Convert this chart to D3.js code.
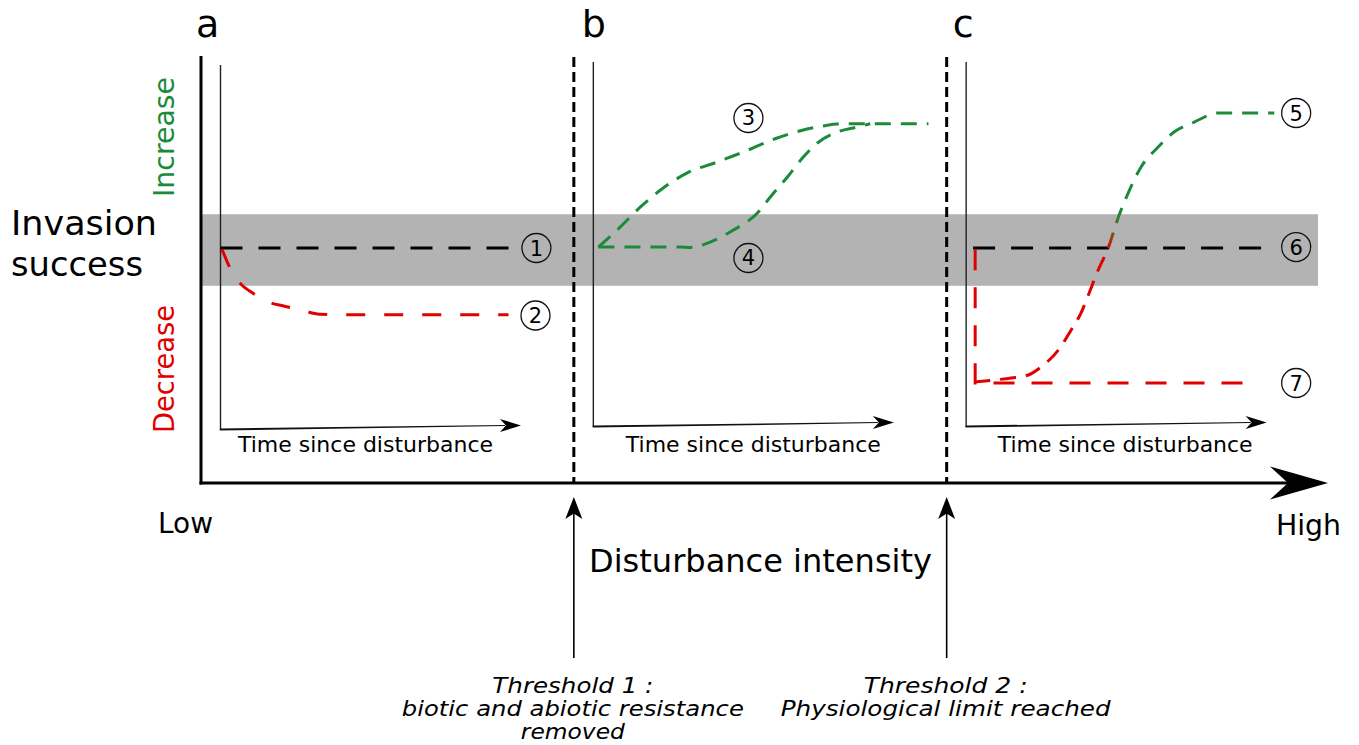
<!DOCTYPE html>
<html>
<head>
<meta charset="utf-8">
<script src="https://cdn.jsdelivr.net/npm/d3@7"></script>
<style>
  html, body { margin: 0; padding: 0; background: #fff; }
  svg { display: block; }
  text { font-family: "DejaVu Sans", Verdana, sans-serif; }
</style>
</head>
<body>
<svg id="chart" width="1359" height="745"></svg>
<script>
// ---- Data -------------------------------------------------------------
// Disturbance intensity axis: three panels separated by two thresholds.
const panelLabels = ["a", "b", "c"];
const intensityLabels = ["Low", "High"];
const thresholdPositions = [1, 2];
const thresholdLines = [
  ["Threshold 1 :", "biotic and abiotic resistance", "removed"],
  ["Threshold 2 :", "Physiological limit reached"]
];
const timeAxisLabel = "Time since disturbance";
const intensityAxisLabel = "Disturbance intensity";
const responseLabel = ["Invasion", "success"];
const increaseLabel = "Increase";
const decreaseLabel = "Decrease";

// Invasion success relative to undisturbed level (0), from -100 (decrease) to +100 (increase)
const neutralBand = [25, -28];

// Curves: [time since disturbance (0-100), invasion success]
const curve1 = [[0, 0], [97.5, 0]];
const curve2 = [[0.5, -1], [3, -14], [6.5, -26], [10.5, -33], [16, -40], [21, -43],
                [27, -46], [33, -49], [45, -49.5], [96, -49.5]];
const curve3 = [[1.7, 0.7], [9, 15.6], [15.7, 30.4], [23.3, 44.4], [31.3, 55.6], [41.3, 63.7],
                [50, 71.1], [61.3, 81.5], [70, 87.4], [76.7, 90.4], [81.3, 91.9], [89, 92], [111.7, 92]];
const curve4 = [[1.7, 0.7], [14.7, 0.7], [29, 0.7], [32.3, 0.4], [39, 4.4], [46.7, 13.3],
                [54.7, 25.9], [59, 37.8], [64.7, 52.6], [70, 67.4], [74.7, 77.8], [81.3, 85.9],
                [88, 89.6], [92.3, 92]];
const curve5 = [[2.7, -99.3], [9.3, -97.8], [15, -96.3], [20.7, -94.1], [25, -88.1], [30.7, -75.6],
                [35, -60.7], [38.3, -48.1], [41, -33.3], [44, -16.3], [46, -6.7], [47.7, 2.2],
                [49.3, 13.3], [51, 24.4], [54, 40.7], [58.3, 60], [64, 74.8], [69.3, 85.9],
                [76, 93.3], [84, 100], [89.3, 100], [102.7, 100]];
const curve6 = [[2.3, 0], [100, 0]];
const curve7 = [[3, -1], [3, -100], [93, -100]];

// Circled scenario numbers and where they sit (time, success)
const scenarioIds = ["1", "2", "3", "4", "5", "6", "7"];
const scenarioPanel = [0, 0, 1, 1, 2, 2, 2];
const scenarioLabelTime = [105.3, 105, 51.7, 51.7, 110, 110, 110];
const scenarioLabelSuccess = [0, -50, 96.3, -7.4, 100, 0.7, -100];

// ---- Styling ----------------------------------------------------------
const GREEN = "#1b8b3b";
const RED = "#e00000";
const BLACK = "#000";
const BAND = "#b3b3b3";

const svg = d3.select("#chart");
const defs = svg.append("defs");

// Scales
const xIntensity = d3.scaleLinear().domain([0, 3]).range([201, 1319.5]);
const y = d3.scaleLinear().domain([-100, 100]).range([383, 113]);
const innerOffset = 19.5;
const timeScale = i => d3.scaleLinear().domain([0, 100])
  .range([xIntensity(i) + innerOffset, xIntensity(i) + innerOffset + 300]);

// Red-to-green fade along the rising S-curve
const grad = defs.append("linearGradient")
  .attr("id", "riseGrad").attr("gradientUnits", "userSpaceOnUse")
  .attr("x1", 0).attr("x2", 0).attr("y1", y(-3)).attr("y2", y(26));
grad.append("stop").attr("offset", 0).attr("stop-color", RED);
grad.append("stop").attr("offset", 0.45).attr("stop-color", "#8a4a18");
grad.append("stop").attr("offset", 1).attr("stop-color", GREEN);

const series = [
  { pts: curve1, panel: 0, color: BLACK, dash: "22 16", curve: d3.curveLinear },
  { pts: curve2, panel: 0, color: RED, dash: "19 19", curve: d3.curveMonotoneX },
  { pts: curve3, panel: 1, color: GREEN, dash: "16 10", curve: d3.curveMonotoneX },
  { pts: curve4, panel: 1, color: GREEN, dash: "16 10", curve: d3.curveMonotoneX },
  { pts: curve6, panel: 2, color: BLACK, dash: "22 16", curve: d3.curveLinear },
  { pts: curve7, panel: 2, color: RED, dash: "21 17", curve: d3.curveLinear },
  { pts: curve5, panel: 2, color: "url(#riseGrad)", dash: "16 10", curve: d3.curveMonotoneX }
];

// ---- Neutral band -----------------------------------------------------
svg.append("rect")
  .attr("x", xIntensity(0)).attr("y", y(neutralBand[0]))
  .attr("width", xIntensity(3) - xIntensity(0) - 1.5)
  .attr("height", y(neutralBand[1]) - y(neutralBand[0]))
  .attr("fill", BAND);

// ---- Main axes ----------------------------------------------------------
const axisY = 483;
svg.append("line")
  .attr("x1", xIntensity(0)).attr("x2", xIntensity(0))
  .attr("y1", 56).attr("y2", axisY + 1.5)
  .attr("stroke", BLACK).attr("stroke-width", 3);
const tipX = xIntensity(3) + 8.5;
svg.append("line")
  .attr("x1", xIntensity(0) - 1.5).attr("x2", tipX - 35)
  .attr("y1", axisY).attr("y2", axisY)
  .attr("stroke", BLACK).attr("stroke-width", 3);
svg.append("path")
  .attr("d", `M${tipX},${axisY} L${tipX - 58},${axisY - 16.5} L${tipX - 40},${axisY} L${tipX - 58},${axisY + 16.5} Z`)
  .attr("fill", BLACK);

// Threshold dashed separators, arrows and their captions
const thresholdLineWidths = [[161, 342, 104], [164, 330]];
thresholdPositions.forEach((t, k) => {
  const x = xIntensity(t);
  svg.append("line")
    .attr("x1", x).attr("x2", x).attr("y1", 57).attr("y2", axisY)
    .attr("stroke", BLACK).attr("stroke-width", 3).attr("stroke-dasharray", "10 5");
  svg.append("line")
    .attr("x1", x).attr("x2", x).attr("y1", 658).attr("y2", 512)
    .attr("stroke", BLACK).attr("stroke-width", 1.6);
  svg.append("path")
    .attr("d", `M${x},497 L${x - 8.5},519 L${x},513.5 L${x + 8.5},519 Z`)
    .attr("fill", BLACK);
  thresholdLines[k].forEach((l, j) => {
    svg.append("text")
      .attr("x", x - 1).attr("y", 693 + 23 * j)
      .attr("text-anchor", "middle")
      .attr("font-size", 22).attr("font-style", "italic")
      .attr("textLength", thresholdLineWidths[k][j]).attr("lengthAdjust", "spacingAndGlyphs")
      .text(l);
  });
});

// ---- Panels -------------------------------------------------------------
const panelLabelDx = [-5, 8, 6];
const timeLabelDx = [145, 160, 159];
const innerBottom = [429.5, 426.5, 426.5];
const innerTop = [65, 62, 62];

panelLabels.forEach((lab, i) => {
  const ts = timeScale(i);
  const x0 = ts(0);
  const yb = innerBottom[i];
  const tip = ts(100) + 0.5;

  svg.append("text")
    .attr("x", xIntensity(i) + panelLabelDx[i]).attr("y", 37)
    .attr("font-size", 38).text(lab);

  // inner vertical axis
  svg.append("line")
    .attr("x1", x0).attr("x2", x0).attr("y1", innerTop[i]).attr("y2", yb)
    .attr("stroke", "#222").attr("stroke-width", 1.4);
  // inner time axis (tapered shaft + arrowhead)
  const ty = yb - 4;
  svg.append("path")
    .attr("d", `M${x0 - 0.7},${yb - 1} L${tip - 16},${ty - 0.5} L${tip - 16},${ty + 0.6} L${x0 - 0.7},${yb + 1.1} Z`)
    .attr("fill", "#111");
  svg.append("path")
    .attr("d", `M${tip},${ty} L${tip - 21},${ty - 6.5} L${tip - 15},${ty} L${tip - 21},${ty + 6.5} Z`)
    .attr("fill", BLACK);

  svg.append("text")
    .attr("x", x0 + timeLabelDx[i]).attr("y", 452)
    .attr("text-anchor", "middle").attr("font-size", 22)
    .attr("textLength", 255).attr("lengthAdjust", "spacingAndGlyphs")
    .text(timeAxisLabel);
});

// ---- Curves -------------------------------------------------------------
series.forEach(s => {
  const ts = timeScale(s.panel);
  const line = d3.line().x(d => ts(d[0])).y(d => y(d[1])).curve(s.curve);
  svg.append("path")
    .attr("d", line(s.pts))
    .attr("fill", "none")
    .attr("stroke", s.color)
    .attr("stroke-width", 3)
    .attr("stroke-dasharray", s.dash);
});

// ---- Circled scenario numbers ------------------------------------------
scenarioIds.forEach((id, k) => {
  const ts = timeScale(scenarioPanel[k]);
  const cx = ts(scenarioLabelTime[k]);
  const cy = y(scenarioLabelSuccess[k]);
  svg.append("circle")
    .attr("cx", cx).attr("cy", cy).attr("r", 14.5)
    .attr("fill", "none").attr("stroke", "#111").attr("stroke-width", 1.3);
  svg.append("text")
    .attr("x", cx).attr("y", cy + 7.5)
    .attr("text-anchor", "middle").attr("font-size", 21)
    .text(id);
});

// ---- Response labels ----------------------------------------------------
const resp = svg.append("text").attr("font-size", 33);
resp.append("tspan").attr("x", 11).attr("y", 235)
  .attr("textLength", 146).attr("lengthAdjust", "spacingAndGlyphs").text(responseLabel[0]);
resp.append("tspan").attr("x", 11).attr("y", 276)
  .attr("textLength", 132).attr("lengthAdjust", "spacingAndGlyphs").text(responseLabel[1]);

svg.append("text")
  .attr("transform", `translate(174,137) rotate(-90)`)
  .attr("text-anchor", "middle").attr("font-size", 29)
  .attr("textLength", 120).attr("lengthAdjust", "spacingAndGlyphs")
  .attr("fill", GREEN).text(increaseLabel);
svg.append("text")
  .attr("transform", `translate(174,369) rotate(-90)`)
  .attr("text-anchor", "middle").attr("font-size", 29)
  .attr("textLength", 128).attr("lengthAdjust", "spacingAndGlyphs")
  .attr("fill", RED).text(decreaseLabel);

// ---- Intensity axis labels ----------------------------------------------
svg.append("text")
  .attr("x", 158).attr("y", 533).attr("font-size", 28)
  .attr("textLength", 55).attr("lengthAdjust", "spacingAndGlyphs")
  .text(intensityLabels[0]);
svg.append("text")
  .attr("x", 1276).attr("y", 535).attr("font-size", 28)
  .attr("textLength", 65).attr("lengthAdjust", "spacingAndGlyphs")
  .text(intensityLabels[1]);
svg.append("text")
  .attr("x", 589).attr("y", 572).attr("font-size", 32)
  .attr("textLength", 343).attr("lengthAdjust", "spacingAndGlyphs")
  .text(intensityAxisLabel);
</script>
</body>
</html>
